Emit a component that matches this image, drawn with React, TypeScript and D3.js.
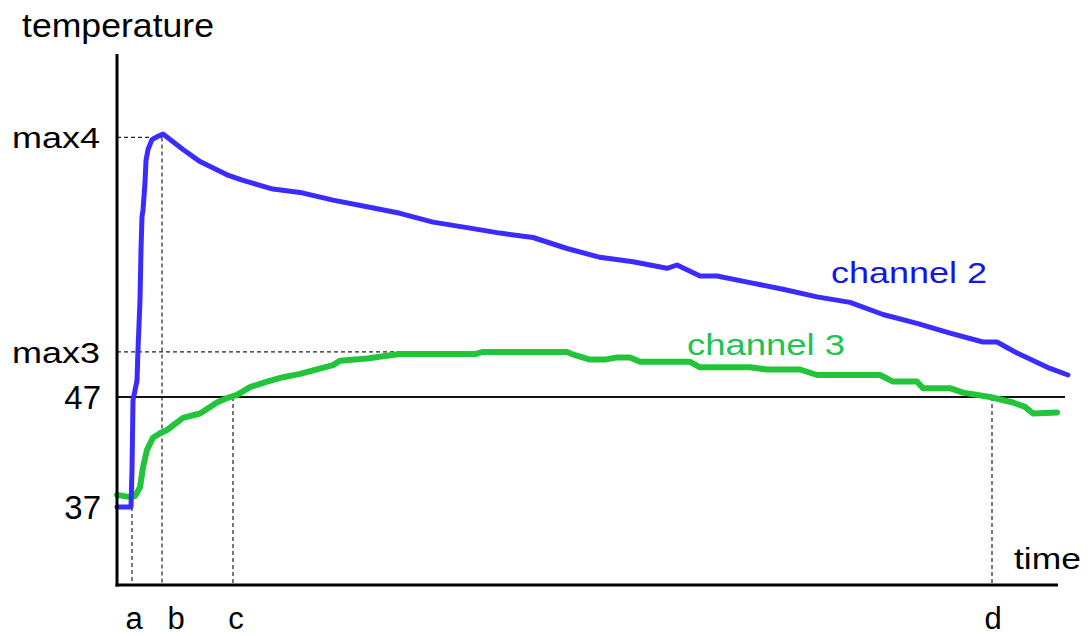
import React from "react";
import * as d3 from "d3";

// time (arbitrary units), temperature
const channel2Time = [0, 14, 15, 16, 20, 21, 23, 24, 25, 26, 28, 29, 31, 35, 41, 46, 66, 83, 110, 126, 156, 183, 216, 250, 283, 316, 350, 383, 416, 450, 483, 516, 550, 560, 583, 600, 633, 666, 700, 733, 766, 800, 833, 866, 880, 900, 933, 951];
const channel2Temp = [37.0, 37.0, 40.4, 46.7, 48.5, 51.3, 55.8, 60.4, 63.4, 64.0, 66.5, 68.5, 69.5, 70.4, 70.7, 70.9, 69.5, 68.4, 67.2, 66.7, 65.9, 65.6, 64.9, 64.3, 63.7, 62.9, 62.4, 61.9, 61.5, 60.5, 59.7, 59.3, 58.7, 59.0, 58.0, 58.0, 57.4, 56.8, 56.1, 55.6, 54.5, 53.7, 52.8, 52.0, 52.0, 51.0, 49.6, 49.0];

const channel3Time = [0, 13, 18, 23, 26, 30, 36, 43, 50, 66, 83, 100, 110, 120, 133, 150, 166, 183, 216, 223, 250, 266, 283, 358, 366, 450, 458, 473, 488, 500, 513, 523, 573, 583, 633, 650, 683, 700, 763, 776, 800, 806, 833, 846, 873, 896, 908, 916, 940];
const channel3Temp = [38.1, 37.9, 38.0, 38.8, 40.6, 42.2, 43.3, 43.7, 44.0, 45.1, 45.5, 46.5, 46.9, 47.2, 47.9, 48.4, 48.8, 49.1, 49.9, 50.3, 50.5, 50.7, 50.9, 50.9, 51.1, 51.1, 50.8, 50.4, 50.4, 50.6, 50.6, 50.2, 50.2, 49.7, 49.7, 49.5, 49.5, 49.0, 49.0, 48.4, 48.4, 47.8, 47.8, 47.4, 47.0, 46.5, 46.1, 45.5, 45.6];

const yTickLabels = ["37", "47", "max3", "max4"];
const yTickValues = [37, 47, 51.1, 70.6];

const xMarkLabels = ["a", "b", "c", "d"];
const xMarkTimes = [15, 45, 116, 875];
const xMarkFromTemp = [37, 70.6, 47, 47];

const thresholdTemp = 47;
const max3DashEnd = 358;

const W = 1088;
const H = 636;

export default function App() {
  const x = d3.scaleLinear().domain([0, 940]).range([117, 1057]);
  const y = d3.scaleLinear().domain([30, 78]).range([584, 56]);

  const c2 = channel2Time.map((t, i) => [t, channel2Temp[i]] as [number, number]);
  const c3 = channel3Time.map((t, i) => [t, channel3Temp[i]] as [number, number]);
  const line = d3
    .line<[number, number]>()
    .x((d) => x(d[0]))
    .y((d) => y(d[1]));

  const font = "'Liberation Sans', Arial, sans-serif";
  const dash = "4 3";
  const dashColor = "#222";

  // label offsets from the marker lines (layout only)
  const xLabelOffset = [2, 14, 3, 1];

  const yLabelStyle: Record<string, any> = {
    "37": { size: 33, anchor: "end", x: 101, len: null },
    "47": { size: 33, anchor: "end", x: 101, len: null },
    max3: { size: 30, anchor: "start", x: 12, len: 88 },
    max4: { size: 30, anchor: "start", x: 12, len: 88 },
  };

  return (
    <div style={{ position: "absolute", left: 0, top: 0 }}>
      <svg width={W} height={H} style={{ display: "block", background: "#fff" }}>
        {/* dashed guides */}
        <line x1={x(0)} x2={x(xMarkTimes[1])} y1={y(yTickValues[3])} y2={y(yTickValues[3])} stroke={dashColor} strokeWidth={1.2} strokeDasharray={dash} />
        <line x1={x(0)} x2={x(max3DashEnd)} y1={y(yTickValues[2])} y2={y(yTickValues[2])} stroke={dashColor} strokeWidth={1.2} strokeDasharray={dash} />
        {xMarkTimes.map((t, i) => (
          <line key={"v" + i} x1={x(t)} x2={x(t)} y1={y(xMarkFromTemp[i])} y2={y(30)} stroke={dashColor} strokeWidth={1.2} strokeDasharray={dash} />
        ))}

        {/* 47 threshold line */}
        <line x1={x(0)} x2={1065} y1={y(thresholdTemp)} y2={y(thresholdTemp)} stroke="#111" strokeWidth={2} />

        {/* series */}
        <path d={line(c3) || ""} fill="none" stroke="#22c43a" strokeWidth={6} strokeLinejoin="round" strokeLinecap="round" />
        <path d={line(c2) || ""} fill="none" stroke="#3a2cff" strokeWidth={5} strokeLinejoin="round" strokeLinecap="round" />

        {/* axes */}
        <line x1={x(0)} x2={x(0)} y1={54} y2={y(30) + 2.5} stroke="#000" strokeWidth={3} />
        <line x1={x(0) - 1.5} x2={1058} y1={y(30) + 1} y2={y(30) + 1} stroke="#000" strokeWidth={3} />

        {/* y labels */}
        {yTickLabels.map((lab, i) => {
          const s = yLabelStyle[lab];
          const yy = y(yTickValues[i]);
          return (
            <text
              key={"yl" + i}
              x={s.x}
              y={yy}
              dy="0.36em"
              fontSize={s.size}
              fontFamily={font}
              textAnchor={s.anchor}
              fill="#000"
              {...(s.len ? { textLength: s.len, lengthAdjust: "spacingAndGlyphs" } : {})}
            >
              {lab}
            </text>
          );
        })}

        {/* x labels */}
        {xMarkLabels.map((lab, i) => (
          <text key={"xl" + i} x={x(xMarkTimes[i]) + xLabelOffset[i]} y={629} fontSize={31} fontFamily={font} textAnchor="middle" fill="#000">
            {lab}
          </text>
        ))}

        {/* axis titles */}
        <text x={22} y={37} fontSize={34} fontFamily={font} fill="#000" textLength={192} lengthAdjust="spacingAndGlyphs">
          temperature
        </text>
        <text x={1014} y={569} fontSize={30} fontFamily={font} fill="#000" textLength={67} lengthAdjust="spacingAndGlyphs">
          time
        </text>

        {/* series labels */}
        <text x={831} y={283} fontSize={30} fontFamily={font} fill="#1414ee" textLength={156} lengthAdjust="spacingAndGlyphs">
          channel 2
        </text>
        <text x={687} y={355} fontSize={30} fontFamily={font} fill="#1cc452" textLength={158} lengthAdjust="spacingAndGlyphs">
          channel 3
        </text>
      </svg>
    </div>
  );
}
